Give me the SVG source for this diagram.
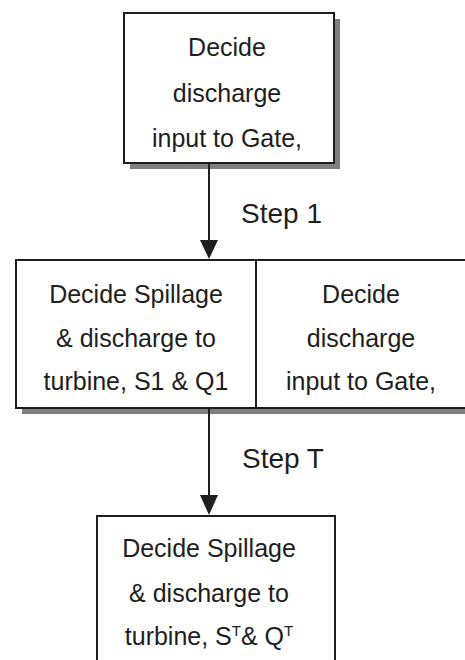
<svg xmlns="http://www.w3.org/2000/svg" width="465" height="660" viewBox="0 0 465 660">
<style>
.box{fill:#fff;stroke:#1e1e1e;stroke-width:2}
.shadow{fill:#7f7f7f}
.t{font-family:"Liberation Sans",Arial,sans-serif;font-size:25px;fill:#1e1e1e;text-anchor:middle}
.s{font-family:"Liberation Sans",Arial,sans-serif;font-size:28px;fill:#1e1e1e}
.c{stroke:#1e1e1e;stroke-width:2;fill:none}
.h{fill:#1e1e1e}
</style>
<rect width="465" height="660" fill="#fff"/>
<g id="node-top">
<rect class="shadow" x="130" y="19" width="210" height="150"/>
<rect class="box" x="124" y="13" width="210" height="150"/>
<text class="t" x="227" y="56">Decide</text>
<text class="t" x="227" y="102">discharge</text>
<text class="t" x="227" y="147">input to Gate,</text>
</g>
<g id="node-middle">
<rect class="shadow" x="22" y="266" width="450" height="148"/>
<rect class="box" x="16" y="260" width="450" height="148"/>
<line class="c" x1="256" y1="260" x2="256" y2="408"/>
<text class="t" x="136" y="303">Decide Spillage</text>
<text class="t" x="136" y="347">&amp; discharge to</text>
<text class="t" x="136" y="390">turbine, S1 &amp; Q1</text>
<text class="t" x="361" y="303">Decide</text>
<text class="t" x="361" y="347">discharge</text>
<text class="t" x="361" y="390">input to Gate,</text>
</g>
<g id="node-bottom">
<rect class="box" x="97" y="516" width="238" height="170"/>
<text class="t" x="209" y="557">Decide Spillage</text>
<text class="t" x="209" y="602">&amp; discharge to</text>
<text class="t" x="209" y="645">turbine, S<tspan font-size="15" dy="-9">T</tspan><tspan dy="9">&amp; Q</tspan><tspan font-size="15" dy="-9">T</tspan></text>
</g>
<g id="connectors">
<line class="c" x1="209" y1="163" x2="209" y2="242"/>
<polygon class="h" points="200,240 218,240 209,259"/>
<text class="s" x="241" y="223">Step 1</text>
<line class="c" x1="209" y1="408" x2="209" y2="497"/>
<polygon class="h" points="200,495 218,495 209,515"/>
<text class="s" x="242" y="468">Step T</text>
</g>
</svg>
